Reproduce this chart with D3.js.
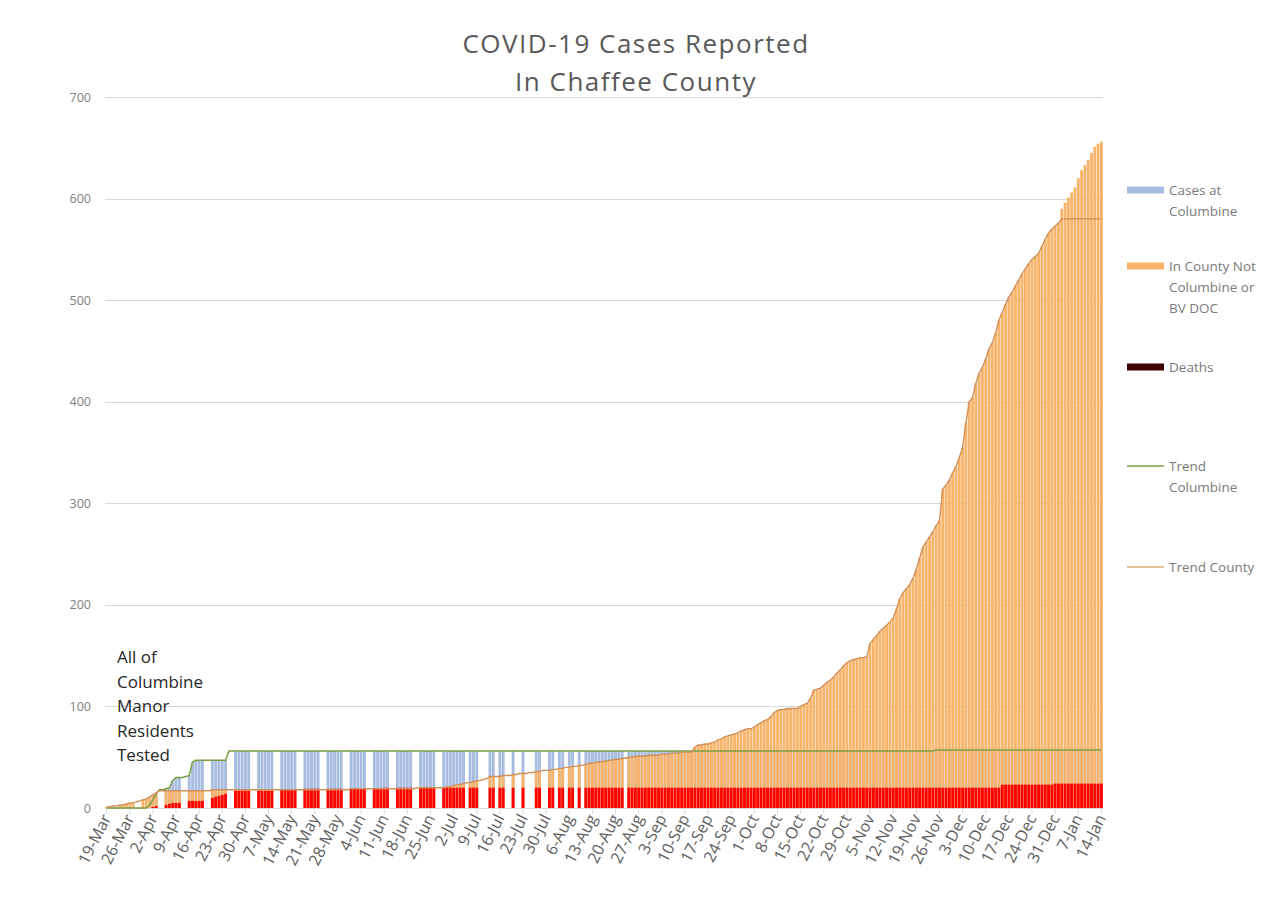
<!DOCTYPE html>
<html>
<head>
<meta charset="utf-8">
<script src="https://cdn.jsdelivr.net/npm/d3@7"></script>
<style>
  body { margin: 0; background: #ffffff; }
  svg { display: block; font-family: "Open Sans", sans-serif; }
</style>
</head>
<body>
<svg id="chart" width="1265" height="917"></svg>
<script>
// x axis labels, one every 7 days starting 19-Mar (2020)
var weekLabels = ["19-Mar", "26-Mar", "2-Apr", "9-Apr", "16-Apr", "23-Apr", "30-Apr",
    "7-May", "14-May", "21-May", "28-May", "4-Jun", "11-Jun", "18-Jun", "25-Jun",
    "2-Jul", "9-Jul", "16-Jul", "23-Jul", "30-Jul", "6-Aug", "13-Aug", "20-Aug",
    "27-Aug", "3-Sep", "10-Sep", "17-Sep", "24-Sep", "1-Oct", "8-Oct", "15-Oct",
    "22-Oct", "29-Oct", "5-Nov", "12-Nov", "19-Nov", "26-Nov", "3-Dec", "10-Dec",
    "17-Dec", "24-Dec", "31-Dec", "7-Jan", "14-Jan"];

var yTicks = [0, 100, 200, 300, 400, 500, 600, 700];

// days with a report (1) or without (0), one string per week (Thu..Wed)
var reported = [
    "1100111", "1100111", "1100111", "1100111", "1100111", "1100111", "1100111",
    "1100111", "1100111", "1100111", "1100111", "1100111", "1100111", "1100111",
    "1100111", "1111011", "1000110", "1100100", "1000110", "0110110", "1101011",
    "1111111", "1110111", "1111111", "1111111", "1111111", "1111111", "1111111",
    "1111111", "1111111", "1111111", "1111111", "1111111", "1111111", "1111111",
    "1111111", "1111111", "1111111", "1111111", "1111111", "1111111", "1111111",
    "1111111", "1"].join("");

// cumulative cases in county (not Columbine / BV DOC), one row per week
var county = [
    1, 1, 2, 2, 3, 3, 4,
    5, 5, 6, 7, 8, 9, 11,
    13, 15, 17, 17, 17, 17, 17,
    17, 17, 17, 17, 17, 17, 17,
    17, 17, 17, 17, 18, 18, 18,
    18, 18, 18, 18, 18, 18, 18,
    18, 18, 18, 18, 18, 18, 18,
    18, 18, 18, 18, 18, 18, 18,
    18, 18, 18, 18, 18, 18, 18,
    18, 18, 18, 18, 18, 18, 18,
    18, 18, 18, 18, 19, 19, 19,
    19, 19, 19, 19, 19, 19, 19,
    19, 19, 19, 19, 19, 19, 19,
    19, 19, 19, 20, 20, 20, 20,
    20, 20, 20, 20, 20, 21, 21,
    22, 23, 23, 24, 25, 25, 26,
    27, 27, 28, 29, 31, 31, 31,
    31, 32, 32, 32, 33, 33, 34,
    34, 34, 35, 35, 36, 36, 37,
    37, 37, 38, 38, 39, 39, 40,
    40, 41, 41, 42, 42, 43, 44,
    44, 45, 45, 46, 46, 47, 47,
    48, 48, 49, 49, 50, 50, 51,
    51, 51, 51, 52, 52, 52, 52,
    53, 53, 53, 54, 54, 54, 55,
    55, 55, 55, 60, 62, 62, 63,
    63, 64, 65, 67, 68, 70, 71,
    72, 73, 74, 76, 77, 78, 78,
    80, 82, 84, 86, 87, 90, 94,
    96, 97, 97, 98, 98, 98, 98,
    100, 102, 103, 108, 116, 117, 118,
    121, 124, 126, 129, 133, 136, 140,
    143, 145, 146, 147, 148, 148, 149,
    162, 166, 170, 174, 177, 180, 183,
    187, 196, 206, 212, 216, 220, 226,
    235, 246, 257, 262, 267, 272, 278,
    283, 314, 318, 323, 330, 336, 345,
    355, 379, 400, 404, 418, 428, 434,
    442, 452, 458, 468, 480, 488, 496,
    503, 508, 514, 520, 526, 531, 536,
    540, 543, 546, 553, 560, 566, 570,
    573, 576, 590, 596, 601, 606, 611,
    620, 628, 633, 638, 645, 651, 654,
    656];

// trend line for the county (stops updating on 5-Jan)
var countyTrend = [
    1, 1, 2, 2, 3, 3, 4,
    5, 5, 6, 7, 8, 9, 11,
    13, 15, 17, 17, 17, 17, 17,
    17, 17, 17, 17, 17, 17, 17,
    17, 17, 17, 17, 18, 18, 18,
    18, 18, 18, 18, 18, 18, 18,
    18, 18, 18, 18, 18, 18, 18,
    18, 18, 18, 18, 18, 18, 18,
    18, 18, 18, 18, 18, 18, 18,
    18, 18, 18, 18, 18, 18, 18,
    18, 18, 18, 18, 19, 19, 19,
    19, 19, 19, 19, 19, 19, 19,
    19, 19, 19, 19, 19, 19, 19,
    19, 19, 19, 20, 20, 20, 20,
    20, 20, 20, 20, 20, 21, 21,
    22, 23, 23, 24, 25, 25, 26,
    27, 27, 28, 29, 31, 31, 31,
    31, 32, 32, 32, 33, 33, 34,
    34, 34, 35, 35, 36, 36, 37,
    37, 37, 38, 38, 39, 39, 40,
    40, 41, 41, 42, 42, 43, 44,
    44, 45, 45, 46, 46, 47, 47,
    48, 48, 49, 49, 50, 50, 51,
    51, 51, 51, 52, 52, 52, 52,
    53, 53, 53, 54, 54, 54, 55,
    55, 55, 55, 60, 62, 62, 63,
    63, 64, 65, 67, 68, 70, 71,
    72, 73, 74, 76, 77, 78, 78,
    80, 82, 84, 86, 87, 90, 94,
    96, 97, 97, 98, 98, 98, 98,
    100, 102, 103, 108, 116, 117, 118,
    121, 124, 126, 129, 133, 136, 140,
    143, 145, 146, 147, 148, 148, 149,
    162, 166, 170, 174, 177, 180, 183,
    187, 196, 206, 212, 216, 220, 226,
    235, 246, 257, 262, 267, 272, 278,
    283, 314, 318, 323, 330, 336, 345,
    355, 379, 400, 404, 418, 428, 434,
    442, 452, 458, 468, 480, 488, 496,
    503, 508, 514, 520, 526, 531, 536,
    540, 543, 546, 553, 560, 566, 570,
    573, 576, 580, 580, 580, 580, 580,
    580, 580, 580, 580, 580, 580, 580,
    580];

// cumulative cases at Columbine Manor (bars and trend line)
var columbine = [
    0, 0, 0, 0, 0, 0, 0,
    0, 0, 0, 0, 0, 0, 3,
    8, 14, 18, 18, 19, 20, 27,
    30, 30, 30, 31, 32, 45, 47,
    47, 47, 47, 47, 47, 47, 47,
    47, 47, 56, 56, 56, 56, 56,
    56, 56, 56, 56, 56, 56, 56,
    56, 56, 56, 56, 56, 56, 56,
    56, 56, 56, 56, 56, 56, 56,
    56, 56, 56, 56, 56, 56, 56,
    56, 56, 56, 56, 56, 56, 56,
    56, 56, 56, 56, 56, 56, 56,
    56, 56, 56, 56, 56, 56, 56,
    56, 56, 56, 56, 56, 56, 56,
    56, 56, 56, 56, 56, 56, 56,
    56, 56, 56, 56, 56, 56, 56,
    56, 56, 56, 56, 56, 56, 56,
    56, 56, 56, 56, 56, 56, 56,
    56, 56, 56, 56, 56, 56, 56,
    56, 56, 56, 56, 56, 56, 56,
    56, 56, 56, 56, 56, 56, 56,
    56, 56, 56, 56, 56, 56, 56,
    56, 56, 56, 56, 56, 56, 56,
    56, 56, 56, 56, 56, 56, 56,
    56, 56, 56, 56, 56, 56, 56,
    56, 56, 56, 56, 56, 56, 56,
    56, 56, 56, 56, 56, 56, 56,
    56, 56, 56, 56, 56, 56, 56,
    56, 56, 56, 56, 56, 56, 56,
    56, 56, 56, 56, 56, 56, 56,
    56, 56, 56, 56, 56, 56, 56,
    56, 56, 56, 56, 56, 56, 56,
    56, 56, 56, 56, 56, 56, 56,
    56, 56, 56, 56, 56, 56, 56,
    56, 56, 56, 56, 56, 56, 56,
    56, 56, 56, 56, 56, 56, 57,
    57, 57, 57, 57, 57, 57, 57,
    57, 57, 57, 57, 57, 57, 57,
    57, 57, 57, 57, 57, 57, 57,
    57, 57, 57, 57, 57, 57, 57,
    57, 57, 57, 57, 57, 57, 57,
    57, 57, 57, 57, 57, 57, 57,
    57, 57, 57, 57, 57, 57, 57,
    57];

// cumulative deaths
var deaths = [
    0, 0, 0, 0, 0, 0, 0,
    0, 0, 0, 0, 0, 0, 0,
    1, 2, 3, 3, 3, 4, 5,
    5, 5, 5, 6, 7, 7, 7,
    7, 7, 8, 9, 10, 11, 12,
    13, 14, 15, 16, 17, 17, 17,
    17, 17, 17, 17, 17, 17, 17,
    17, 17, 17, 18, 18, 18, 18,
    18, 18, 18, 19, 19, 19, 19,
    19, 19, 19, 19, 19, 19, 19,
    19, 19, 19, 19, 19, 19, 19,
    19, 19, 19, 19, 19, 19, 19,
    20, 20, 20, 20, 20, 20, 20,
    20, 20, 20, 20, 20, 20, 20,
    20, 20, 20, 20, 20, 20, 20,
    20, 20, 20, 20, 20, 20, 20,
    20, 20, 20, 20, 20, 20, 20,
    20, 20, 20, 20, 20, 20, 20,
    20, 20, 20, 20, 20, 20, 20,
    20, 20, 20, 20, 20, 20, 20,
    20, 20, 20, 20, 20, 20, 20,
    20, 20, 20, 20, 20, 20, 20,
    20, 20, 20, 20, 20, 20, 20,
    20, 20, 20, 20, 20, 20, 20,
    20, 20, 20, 20, 20, 20, 20,
    20, 20, 20, 20, 20, 20, 20,
    20, 20, 20, 20, 20, 20, 20,
    20, 20, 20, 20, 20, 20, 20,
    20, 20, 20, 20, 20, 20, 20,
    20, 20, 20, 20, 20, 20, 20,
    20, 20, 20, 20, 20, 20, 20,
    20, 20, 20, 20, 20, 20, 20,
    20, 20, 20, 20, 20, 20, 20,
    20, 20, 20, 20, 20, 20, 20,
    20, 20, 20, 20, 20, 20, 20,
    20, 20, 20, 20, 20, 20, 20,
    20, 20, 20, 20, 20, 20, 20,
    20, 20, 20, 20, 20, 20, 20,
    20, 20, 20, 20, 20, 23, 23,
    23, 23, 23, 23, 23, 23, 23,
    23, 23, 23, 23, 23, 23, 23,
    24, 24, 24, 24, 24, 24, 24,
    24, 24, 24, 24, 24, 24, 24,
    24];

var titleLines = ["COVID-19 Cases Reported", "In Chaffee County"];
var noteLines = ["All of", "Columbine", "Manor", "Residents", "Tested"];

var legendItems = [
    { lines: ["Cases at", "Columbine"], type: "rect", color: "#a7bce0", y: 190 },
    { lines: ["In County Not", "Columbine or", "BV DOC"], type: "rect", color: "#f9b46c", y: 266 },
    { lines: ["Deaths"], type: "rect", color: "#3e0303", y: 367 },
    { lines: ["Trend", "Columbine"], type: "line", color: "#78a043", y: 466 },
    { lines: ["Trend County"], type: "line", color: "#dcab78", y: 567 }
];

var svg = d3.select("#chart");
var days = d3.range(county.length);

var x = d3.scaleBand()
    .domain(days)
    .range([105, 1103])
    .paddingInner(0.14)
    .paddingOuter(0.05);

var y = d3.scaleLinear()
    .domain([0, 700])
    .range([808, 97]);

var bw = x.bandwidth();
var hasBar = function(i) { return reported.charAt(i) === "1"; };

svg.append("rect")
    .attr("width", 1265)
    .attr("height", 917)
    .attr("fill", "#ffffff");

/*
 * horizontal grid lines and y labels
 */
svg.append("g")
    .selectAll("line")
    .data(yTicks)
    .enter().append("line")
    .attr("x1", 105)
    .attr("x2", 1103)
    .attr("y1", function(d) { return Math.round(y(d)) + 0.5; })
    .attr("y2", function(d) { return Math.round(y(d)) + 0.5; })
    .style("stroke", "#d9d9d9")
    .style("stroke-width", 1.2);

svg.append("g")
    .selectAll("text")
    .data(yTicks)
    .enter().append("text")
    .attr("x", 91)
    .attr("y", function(d) { return y(d) + 4.5; })
    .attr("text-anchor", "end")
    .attr("font-size", 12.5)
    .attr("fill", "#808080")
    .text(function(d) { return d; });

/*
 * renders one bar series, only on days with a report
 */
function renderBars(values, color) {
    svg.append("g")
        .selectAll("rect")
        .data(days.filter(hasBar))
        .enter().append("rect")
        .attr("x", function(i) { return x(i); })
        .attr("y", function(i) { return y(values[i]); })
        .attr("width", bw)
        .attr("height", function(i) { return y(0) - y(values[i]); })
        .attr("fill", color);
}

renderBars(columbine, "#a7bce0");
renderBars(county, "#f9b46c");
renderBars(deaths, "#fe0000");

// trend lines drawn over the bars
var trend = d3.line()
    .x(function(d, i) { return x(i) + bw / 2; })
    .y(function(d) { return y(d); });

svg.append("path")
    .datum(columbine)
    .attr("d", trend)
    .attr("fill", "none")
    .style("stroke", "#78a043")
    .style("stroke-width", 1.5);

svg.append("path")
    .datum(countyTrend)
    .attr("d", trend)
    .attr("fill", "none")
    .style("stroke", "#d09058")
    .style("stroke-width", 1.4);

/*
 * x axis ticks and rotated labels
 */
var axisG = svg.append("g");

axisG.selectAll("line")
    .data(weekLabels)
    .enter().append("line")
    .attr("x1", function(d, k) { return x(k * 7) + bw / 2; })
    .attr("x2", function(d, k) { return x(k * 7) + bw / 2; })
    .attr("y1", 809)
    .attr("y2", 814)
    .style("stroke", "#d9d9d9")
    .style("stroke-width", 1);

axisG.selectAll("text")
    .data(weekLabels)
    .enter().append("text")
    .attr("text-anchor", "end")
    .attr("font-size", 16)
    .attr("fill", "#5e5e5e")
    .attr("transform", function(d, k) {
        return "translate(" + (x(k * 7) + bw / 2 + 5) + ",818) rotate(-63)";
    })
    .text(function(d) { return d; });

/*
 * title and note
 */
svg.append("g")
    .selectAll("text")
    .data(titleLines)
    .enter().append("text")
    .attr("x", 636)
    .attr("y", function(d, i) { return 53 + i * 38; })
    .attr("text-anchor", "middle")
    .attr("font-size", 26)
    .attr("letter-spacing", 1.5)
    .attr("fill", "#595959")
    .text(function(d) { return d; });

svg.append("g")
    .selectAll("text")
    .data(noteLines)
    .enter().append("text")
    .attr("x", 117)
    .attr("y", function(d, i) { return 663 + i * 24.5; })
    .attr("font-size", 17)
    .attr("fill", "#262626")
    .text(function(d) { return d; });

/*
 * legend at the right side
 */
var legend = svg.append("g")
    .selectAll("g")
    .data(legendItems)
    .enter().append("g")
    .attr("transform", function(d) { return "translate(0," + d.y + ")"; });

legend.filter(function(d) { return d.type === "rect"; })
    .append("rect")
    .attr("x", 1127)
    .attr("y", -3.5)
    .attr("width", 37)
    .attr("height", 7)
    .attr("fill", function(d) { return d.color; });

legend.filter(function(d) { return d.type === "line"; })
    .append("line")
    .attr("x1", 1127)
    .attr("x2", 1164)
    .attr("y1", 0)
    .attr("y2", 0)
    .style("stroke", function(d) { return d.color; })
    .style("stroke-width", 1.5);

legend.each(function(d) {
    d3.select(this).selectAll("text")
        .data(d.lines)
        .enter().append("text")
        .attr("x", 1169)
        .attr("y", function(t, j) { return 4.5 + j * 21; })
        .attr("font-size", 13.5)
        .attr("fill", "#7a7a7a")
        .text(function(t) { return t; });
});
</script>
</body>
</html>
